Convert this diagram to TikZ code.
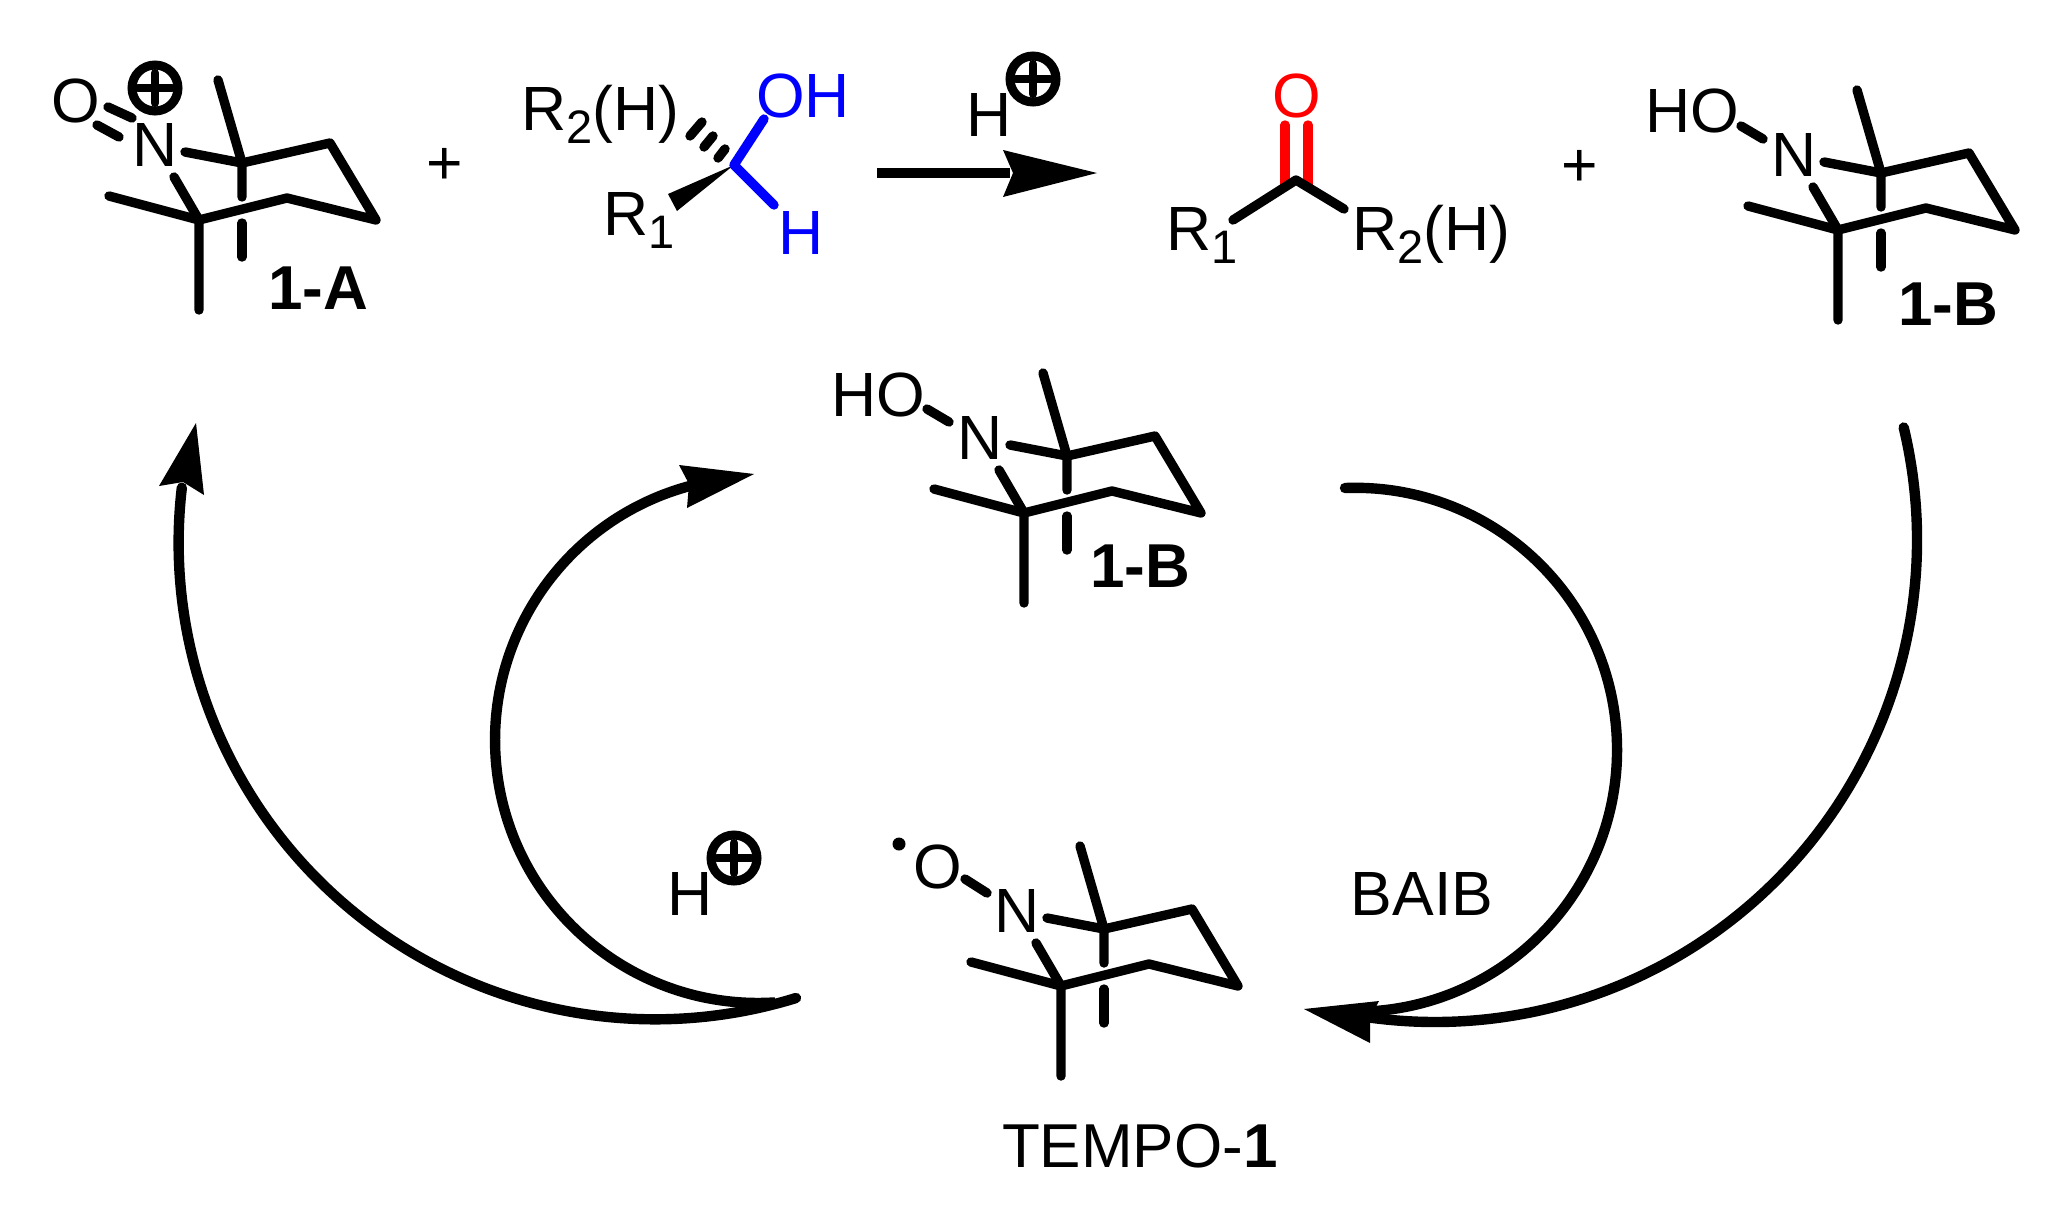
\documentclass[tikz,border=0pt]{standalone}
\usepackage{fontspec}
\setmainfont{Liberation Sans}
\newcommand{\subd}[1]{\raisebox{-13pt}{\fontsize{47}{47}\selectfont #1}}
\tikzset{
  x=1pt,y=-1pt,
  bond/.style={line width=9.4pt,line cap=round,line join=round,black},
  blueb/.style={bond,draw=blue},
  redb/.style={bond,draw=red},
  curve/.style={line width=10.4pt,line cap=round,black},
  head/.style={fill=black,draw=none},
  txt/.style={inner sep=0pt,outer sep=0pt,font=\fontsize{62.5}{62.5}\selectfont},
  txtb/.style={txt,font=\fontsize{62}{62}\selectfont\bfseries},
  ring/.pic={
    \coordinate (-c5) at (0,0);
    \coordinate (-c1) at (43,-57);
    \coordinate (-c2) at (131,-77);
    \coordinate (-c3) at (177,0);
    \coordinate (-c4) at (88,-22);
    \coordinate (-l) at (-90,-24);
    \coordinate (-d) at (0,90);
    \coordinate (-u) at (19,-140);
    \coordinate (-a1) at (43,-23);
    \coordinate (-a2) at (43,3);
    \coordinate (-a3) at (43,37);
    \coordinate (-n1) at (-14,-68);
    \coordinate (-n2) at (-25,-43);
    \node[txt] (-n) at (-44,-75) {N};
    \draw[bond] (-n1) -- (-c1) -- (-c2) -- (-c3) -- (-c4) -- (-c5) -- (-l);
    \draw[bond] (-u) -- (-c1) -- (-a1);
    \draw[bond] (-a2) -- (-a3);
    \draw[bond] (-n2) -- (-c5) -- (-d);
  },
  hplus/.pic={
    \coordinate (-w) at (-17,0);
    \coordinate (-e) at (17,0);
    \coordinate (-t) at (0,-15);
    \coordinate (-b) at (0,15);
    \draw[line width=9pt] (0,0) circle (23);
    \draw[line width=8.5pt,line cap=round] (-w) -- (-e) (-t) -- (-b);
  }
}
\begin{document}
\begin{tikzpicture}
\useasboundingbox (0,0) rectangle (2069,1205);
% molecule 1-A
\pic (ma) at (199,220) {ring};
\node[txt] (ao) at (76,101) {O};
\coordinate (ab1) at (108,107); \coordinate (ab2) at (132,118);
\coordinate (ab3) at (97,125); \coordinate (ab4) at (119,137);
\draw[bond] (ab1) -- (ab2) (ab3) -- (ab4);
\pic (ap) at (155,88) {hplus};
\node[txtb] (al) at (318,288) {1-A};
\node[txt] (p1) at (445,166) {+};
% alcohol
\coordinate (cc) at (734,165);
\coordinate (cw1) at (668,194); \coordinate (cw2) at (677,211);
\fill (cc) -- (cw1) -- (cw2) -- cycle;
\coordinate (h1) at (690,136); \coordinate (h2) at (702,122);
\coordinate (h3) at (704,147); \coordinate (h4) at (713,136);
\coordinate (h5) at (718,158); \coordinate (h6) at (725,149);
\draw[bond] (h1) -- (h2) (h3) -- (h4) (h5) -- (h6);
\coordinate (co) at (764,119); \coordinate (ch) at (774,205);
\draw[blueb] (co) -- (cc) -- (ch);
\node[txt,anchor=base west] (r2) at (521,130) {R\subd{2}(H)};
\node[txt,anchor=base west] (r1) at (603,235) {R\subd{1}};
\node[txt,text=blue,anchor=base west] (oh) at (756,117) {OH};
\node[txt,text=blue] (hb) at (801,233) {H};
% reaction arrow
\node[txt] (h+) at (989,115) {H};
\pic (hp) at (1033,79) {hplus};
\coordinate (ra) at (877,173); \coordinate (rb) at (1010,173);
\coordinate (rt) at (1097,173); \coordinate (ru) at (1003,150); \coordinate (rl) at (1003,197); \coordinate (rn) at (1013,173);
\draw[line width=10pt] (ra) -- (rb);
\fill[head] (rt) -- (ru) -- (rn) -- (rl) -- cycle;
% ketone
\node[txt,text=red] (ko) at (1297,96) {O};
\coordinate (kc) at (1296,180);
\coordinate (kr1) at (1285,125); \coordinate (kr2) at (1285,185);
\coordinate (kr3) at (1308,125); \coordinate (kr4) at (1308,185);
\draw[redb] (kr1) -- (kr2) (kr3) -- (kr4);
\coordinate (ka) at (1233,220); \coordinate (kb) at (1344,209);
\draw[bond] (ka) -- (kc) -- (kb);
\node[txt,anchor=base west] (kl) at (1166,250) {R\subd{1}};
\node[txt,anchor=base west] (kk) at (1352,250) {R\subd{2}(H)};
\node[txt] (p2) at (1580,168) {+};
% 1-B right
\pic (mb) at (1838,230) {ring};
\node[txt] (bho) at (1692,111) {HO};
\coordinate (bb1) at (1741,126); \coordinate (bb2) at (1763,139);
\draw[bond] (bb1) -- (bb2);
\node[txtb] (bl) at (1948,304) {1-B};
% 1-B middle
\pic (mc) at (1024,513) {ring};
\node[txt] (cho) at (878,395) {HO};
\coordinate (cb1) at (927,409); \coordinate (cb2) at (949,422);
\draw[bond] (cb1) -- (cb2);
\node[txtb] (cl) at (1140,566) {1-B};
% TEMPO
\pic (md) at (1061,986) {ring};
\node[txt] (do) at (938,867) {O};
\node[circle,fill=black,inner sep=0pt,minimum size=13pt] (dr) at (899,844) {};
\coordinate (db1) at (965,879); \coordinate (db2) at (987,893);
\draw[bond] (db1) -- (db2);
\node[txt,anchor=base west,font=\fontsize{62}{62}\selectfont] (dl) at (1002,1167) {TEMPO-\textbf{1}};
% labels in cycle
\node[txt] (h2+) at (690,894) {H};
\pic (hq) at (734,858) {hplus};
\node[txt] (ba) at (1422,894) {BAIB};
% curves (circular arcs)
\coordinate (as) at (796,998);
\coordinate (at) at (196,423); \coordinate (al1) at (159,486); \coordinate (ar1) at (204,495); \coordinate (an1) at (183,482);
\draw[curve] (as) arc[start angle=-72.8,end angle=-186.65,radius=476.5pt];
\fill[head] (at) -- (al1) -- (an1) -- (ar1) -- cycle;
\coordinate (bs) at (775,1002.4);
\coordinate (bt) at (754,474); \coordinate (bu) at (679,465); \coordinate (bd) at (687,508); \coordinate (bn) at (689,484);
\draw[curve,line cap=butt] (bs) arc[start angle=-86.3,end angle=-255.3,radius=263pt];
\fill[head] (bt) -- (bu) -- (bn) -- (bd) -- cycle;
\coordinate (cs) at (1345,488);
\coordinate (ct) at (1304,1009); \coordinate (cu) at (1379,1001); \coordinate (cd) at (1370,1043); \coordinate (cn) at (1370,1018);
\draw[curve] (cs) arc[start angle=92.2,end angle=-86.3,radius=262pt];
\coordinate (ds) at (1903.7,427.5);
\draw[curve] (ds) arc[start angle=13.5,end angle=-97.7,radius=482pt];
\fill[head] (ct) -- (cu) -- (cn) -- (cd) -- cycle;
\end{tikzpicture}
\end{document}
